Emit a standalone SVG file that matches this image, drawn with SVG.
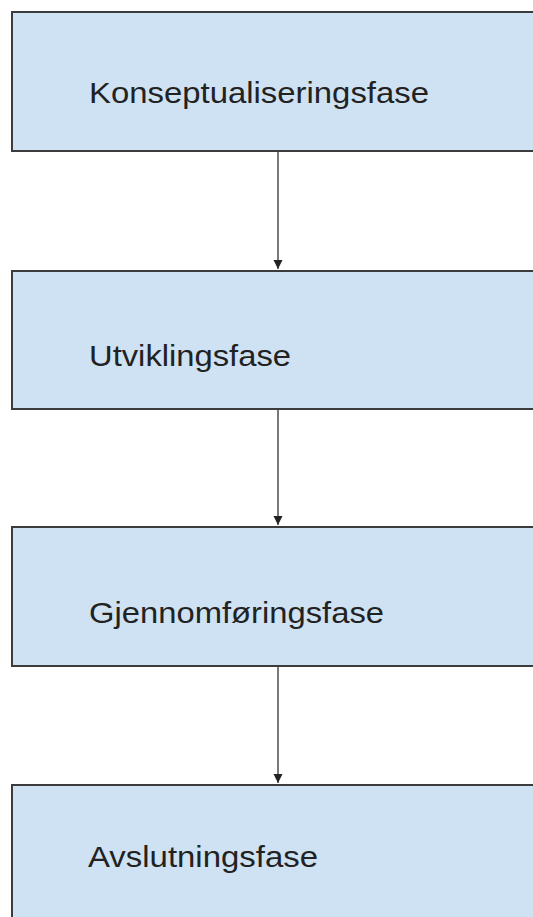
<svg xmlns="http://www.w3.org/2000/svg" width="533" height="917" viewBox="0 0 533 917">
  <style>
    .box { fill: #cfe2f3; stroke: #3c3c3c; stroke-width: 2; }
    .label { font-family: "Liberation Sans", Arial, sans-serif; font-size: 30px; fill: #222; }
    .conn { stroke: #7a7a7a; stroke-width: 2; fill: none; marker-end: url(#arrow); }
  </style>
  <defs>
    <marker id="arrow" markerUnits="userSpaceOnUse" markerWidth="10" markerHeight="10" refX="9" refY="5" orient="auto">
      <path d="M0,0.5 L9,5 L0,9.5 Z" fill="#222"/>
    </marker>
  </defs>
  <rect width="533" height="917" fill="#ffffff"/>

  <g id="konseptualisering">
    <rect class="box" x="12" y="12" width="540" height="139"/>
    <text class="label" x="89" y="103" textLength="340" lengthAdjust="spacingAndGlyphs">Konseptualiseringsfase</text>
  </g>
  <g id="utvikling">
    <rect class="box" x="12" y="271" width="540" height="138"/>
    <text class="label" x="89" y="366" textLength="202" lengthAdjust="spacingAndGlyphs">Utviklingsfase</text>
  </g>
  <g id="gjennomforing">
    <rect class="box" x="12" y="527" width="540" height="139"/>
    <text class="label" x="89" y="623" textLength="295" lengthAdjust="spacingAndGlyphs">Gjennomføringsfase</text>
  </g>
  <g id="avslutning">
    <rect class="box" x="12" y="785" width="540" height="150"/>
    <text class="label" x="88" y="867" textLength="230" lengthAdjust="spacingAndGlyphs">Avslutningsfase</text>
  </g>

  <g id="connectors">
    <line class="conn" x1="278" y1="152" x2="278" y2="269"/>
    <line class="conn" x1="278" y1="410" x2="278" y2="525"/>
    <line class="conn" x1="278" y1="667" x2="278" y2="783"/>
  </g>
</svg>
